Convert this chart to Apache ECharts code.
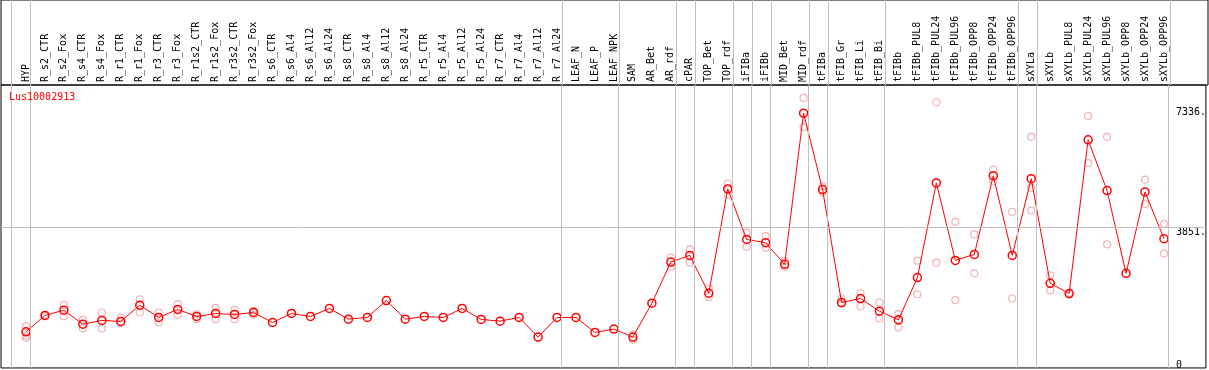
<!DOCTYPE html>
<html>
<head>
<meta charset="utf-8">
<script src="https://cdn.jsdelivr.net/npm/echarts@6/dist/echarts.min.js"></script>
<style>
html,body{margin:0;padding:0;background:#fff;}
#chart{width:1209px;height:370px;}
</style>
</head>
<body>
<div id="chart"></div>
<script>
const categories = ["HYP","R_s2_CTR","R_s2_Fox","R_s4_CTR","R_s4_Fox","R_r1_CTR","R_r1_Fox","R_r3_CTR","R_r3_Fox","R_r1s2_CTR","R_r1s2_Fox","R_r3s2_CTR","R_r3s2_Fox","R_s6_CTR","R_s6_Al4","R_s6_Al12","R_s6_Al24","R_s8_CTR","R_s8_Al4","R_s8_Al12","R_s8_Al24","R_r5_CTR","R_r5_Al4","R_r5_Al12","R_r5_Al24","R_r7_CTR","R_r7_Al4","R_r7_Al12","R_r7_Al24","LEAF_N","LEAF_P","LEAF_NPK","SAM","AR_Bet","AR_rdf","cPAR","TOP_Bet","TOP_rdf","iFIBa","iFIBb","MID_Bet","MID_rdf","tFIBa","tFIB_Gr","tFIB_Li","tFIB_Bi","tFIBb","tFIBb_PUL8","tFIBb_PUL24","tFIBb_PUL96","tFIBb_OPP8","tFIBb_OPP24","tFIBb_OPP96","sXYLa","sXYLb","sXYLb_PUL8","sXYLb_PUL24","sXYLb_PUL96","sXYLb_OPP8","sXYLb_OPP24","sXYLb_OPP96"];

const meanValues = [818,1291,1445,1040,1147,1118,1589,1234,1465,1262,1349,1320,1378,1089,1349,1262,1494,1185,1234,1725,1185,1262,1234,1494,1176,1127,1234,665,1234,1234,800,896,665,1647,2841,3034,1936,4961,3496,3401,2774,7157,4941,1667,1783,1416,1165,2389,5134,2889,3063,5345,3034,5259,2225,1927,6385,4912,2514,4874,3516];

const repA = [974,1310,1598,1165,1378,1223,1762,1378,1618,1329,1511,1453,1425,null,null,null,null,null,null,null,null,null,null,null,null,null,null,null,null,null,null,null,743,null,2967,3207,2072,5114,3689,3592,2869,7599,5036,1783,1936,1667,1329,2880,7475,4007,3641,5519,4296,6472,2456,1950,7079,6472,null,5230,3950];
const repB = [702,1270,1271,916,916,1060,1378,1089,1309,1185,1185,1185,1309,null,null,null,null,null,null,null,null,null,null,null,null,null,null,null,null,null,null,null,587,null,2696,2823,1820,4796,3285,3256,2696,6752,4863,1640,1552,1205,945,1907,2823,1734,2514,5181,1783,4990,2023,1900,5712,3352,null,4527,3092];
const repC = [644,null,null,null,null,null,null,null,null,null,null,null,null,null,null,null,null,null,null,null,null,null,null,null,null,null,null,null,null,null,null,null,null,null,null,null,null,null,null,null,null,null,null,null,null,null,null,null,null,null,null,null,null,4334,null,null,null,null,null,null,null];

const yTickLabels = [0, 3851, 7336];
const gridLineValue = 3851;
// index of the last category in each group (group separators follow them)
const groupEnds = [-1,0,28,31,34,35,37,38,39,41,42,45,52,53,60];
const title = "Lus10002913";

const idx = categories.map((c,i)=>i);
const toPts = arr => arr.map((v,i)=> v==null ? null : [i,v]).filter(p=>p);

const FONT = "DejaVu Sans Mono";
const REP = '#f0a0a0';
const XMIN = -25/19, XMAX = 1182/19;
const sepLine = (xi, yi, extra) => ({type:'line',data:[],xAxisIndex:xi,yAxisIndex:yi,z:1,silent:true,
  markLine:{silent:true,symbol:'none',label:{show:false},animation:false,
    lineStyle:{color:'#c0c0c0',type:'solid',width:1},
    data:groupEnds.map(g=>({xAxis:g+4.5/19})).concat(extra)}});
const repSeries = arr => ({type:'scatter',data:toPts(arr),symbol:'circle',symbolSize:7,z:3,
  itemStyle:{color:'rgba(0,0,0,0)',borderColor:REP,borderWidth:1.2}});
const chart = echarts.init(document.getElementById('chart'), null, {renderer:'canvas'});
chart.setOption({
  animation:false,
  backgroundColor:'#fff',
  title:{text:title,left:9,top:92,padding:0,textStyle:{color:'#ff0000',fontSize:10,fontWeight:'normal',fontFamily:FONT}},
  grid:[
    {left:1,right:1,top:85,bottom:1,show:true,borderColor:'#000',borderWidth:1,containLabel:false},
    {left:1,right:1,top:0,height:85,show:true,borderColor:'#000',borderWidth:1,containLabel:false}
  ],
  xAxis:[
    {type:'value',gridIndex:0,position:'top',min:XMIN,max:XMAX,
     axisLine:{show:false,onZero:false},axisTick:{show:false},splitLine:{show:false},
     axisLabel:{customValues:idx,formatter:v=>categories[Math.round(v)],rotate:-90,margin:3,
       fontSize:10,fontFamily:FONT,color:'#000'}},
    {type:'value',gridIndex:1,min:XMIN,max:XMAX,show:false}
  ],
  yAxis:[
    {type:'value',gridIndex:0,position:'right',min:-231,max:7975,
     axisLine:{show:false},axisTick:{show:false},splitLine:{show:false},
     axisLabel:{inside:true,customValues:yTickLabels,formatter:v=>v===0?'0':v+'.',
       align:'left',verticalAlign:'top',margin:30,fontSize:10,fontFamily:FONT,color:'#000'}},
    {type:'value',gridIndex:1,min:0,max:1,show:false}
  ],
  series:[
    sepLine(0,0,[{yAxis:gridLineValue}]),
    sepLine(1,1,[]),
    repSeries(repA), repSeries(repB), repSeries(repC),
    {type:'line',data:meanValues.map((v,i)=>[i,v]),symbol:'circle',symbolSize:8,showSymbol:true,z:4,
     lineStyle:{color:'#ff0000',width:1},
     itemStyle:{color:'rgba(0,0,0,0)',borderColor:'#ff0000',borderWidth:1.5}}
  ]
});
</script>
</body>
</html>
